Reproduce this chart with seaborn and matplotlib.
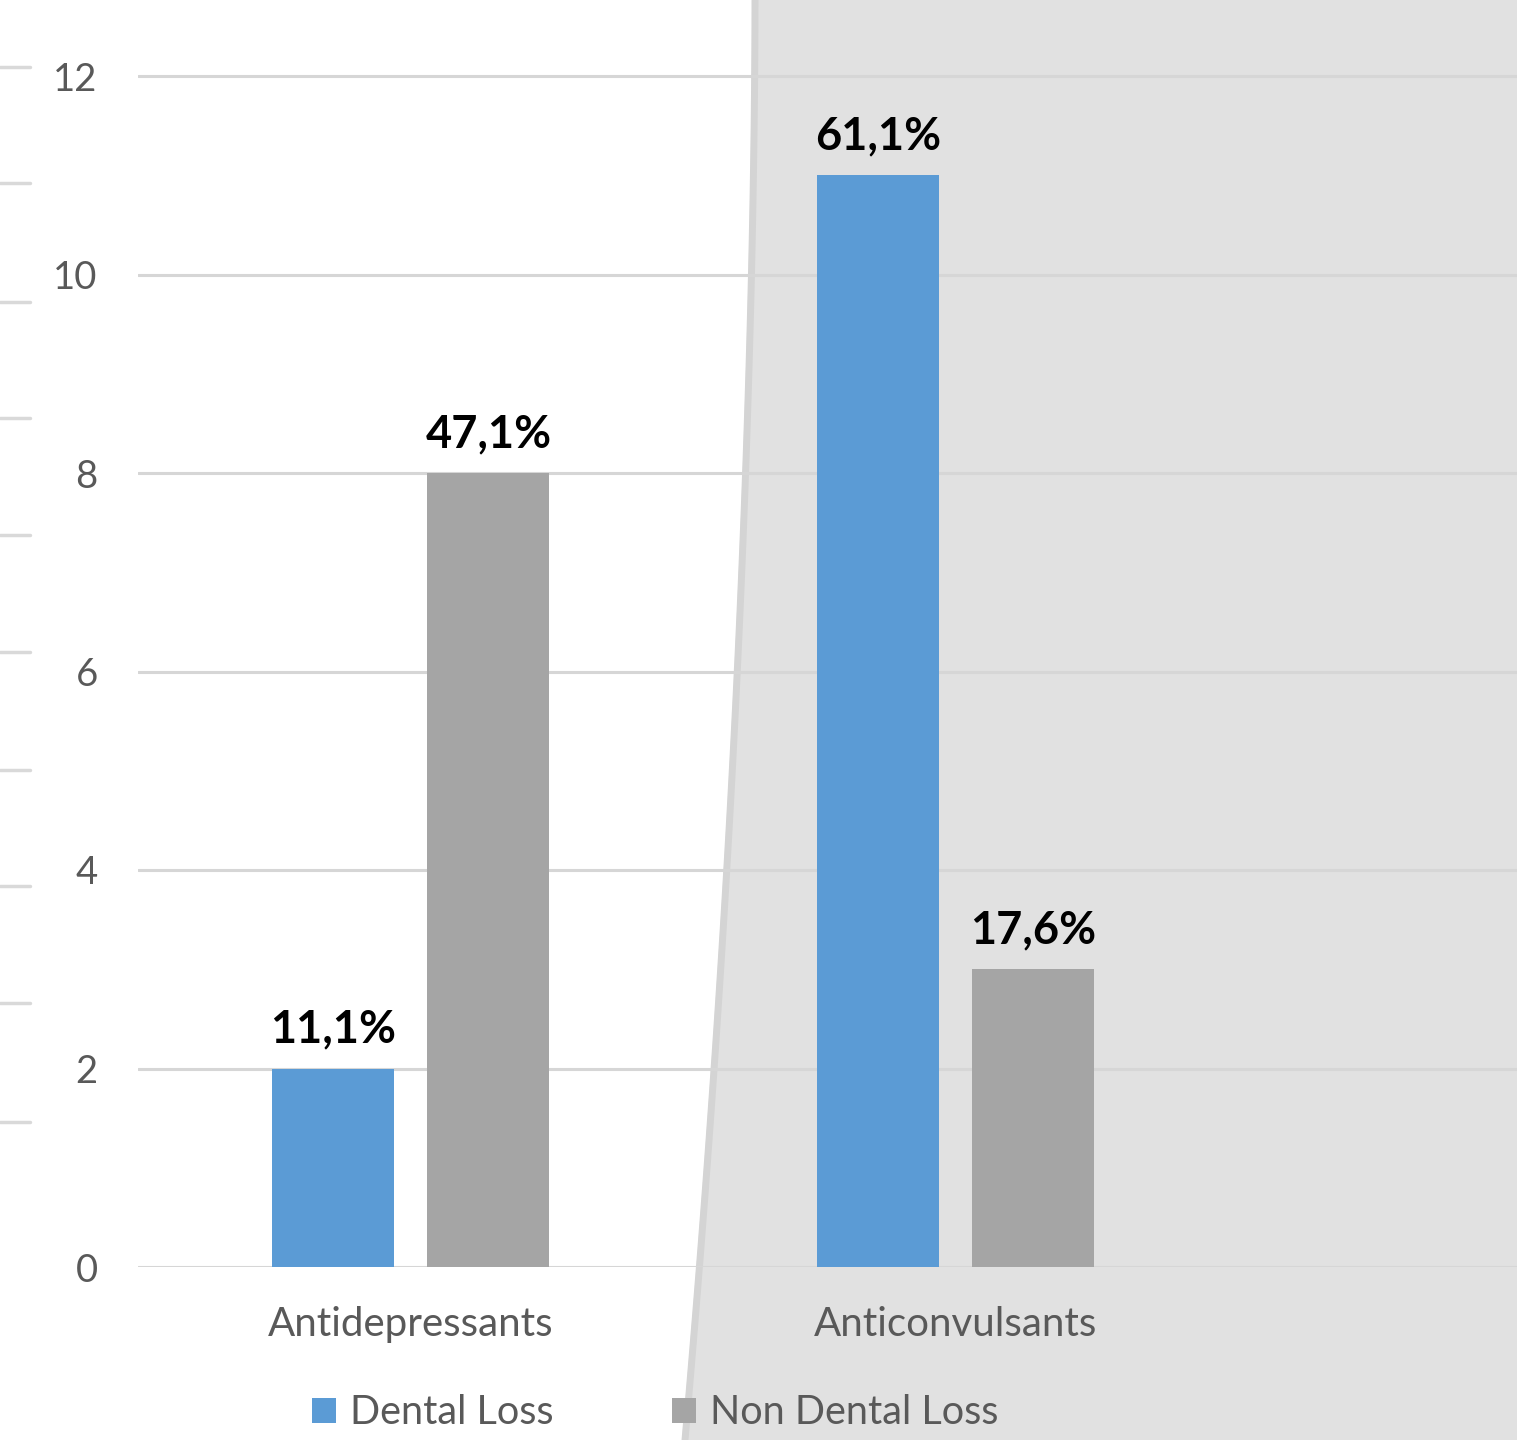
import matplotlib
matplotlib.use("Agg")
import matplotlib.pyplot as plt
import matplotlib.patches as mpatches
from matplotlib.lines import Line2D
import seaborn as sns
import pandas as pd
import numpy as np

categories = ["Antidepressants", "Anticonvulsants"]
series = ["Dental Loss", "Non Dental Loss"]
dental_loss = [2, 11]
non_dental_loss = [8, 3]
dental_labels = ["11,1%", "61,1%"]
non_dental_labels = ["47,1%", "17,6%"]
colors = ["#5b9bd5", "#a5a5a5"]
yticks = [0, 2, 4, 6, 8, 10, 12]

df = pd.DataFrame({
    "category": categories * 2,
    "series": [series[0]] * 2 + [series[1]] * 2,
    "value": dental_loss + non_dental_loss,
})

sns.set_theme(style="white")
plt.rcParams['font.family'] = ['Lato', 'DejaVu Sans']

W, H = 1517, 1440
fig = plt.figure(figsize=(W / 100, H / 100), dpi=100)
fig.patch.set_facecolor("white")

# background page curl (gray region on the right)
ypx = np.linspace(0, H, 60)
xpx = 752 - 70 * (ypx / H) ** 1.8
bx = xpx / W
by = 1 - ypx / H
poly = list(zip(bx, by)) + [(1, 0), (1, 1)]
fig.add_artist(mpatches.Polygon(poly, closed=True, transform=fig.transFigure,
                                facecolor="#e1e1e1", edgecolor="none", zorder=0))
fig.add_artist(Line2D(bx + 3 / W, by, transform=fig.transFigure,
                      color="#d4d4d4", lw=5, zorder=0.5))

# short ticks at left edge from underlying page
for ypix in [67, 183, 302, 418, 535, 652, 770, 886, 1003, 1122]:
    fig.add_artist(Line2D([0, 30 / W], [1 - ypix / H] * 2, transform=fig.transFigure,
                          color="#d9d9d9", lw=2.5, zorder=0.5))

ax = fig.add_axes([138 / W, 173 / H, 1 - 138 / W, 1 - 173 / H])
ax.set_zorder(2)
ax.patch.set_alpha(0)

sns.barplot(data=df, x="category", y="value", hue="series", palette=colors,
            saturation=1, width=0.571, gap=0.216, ax=ax, legend=False, zorder=3,
            linewidth=0, edgecolor="none")

ax.set_xlim(-0.5, 2.03)
ax.set_ylim(0, (1267 - 0) / ((1267 - 76) / 12))
ax.set_yticks(yticks)
ax.set_yticklabels([str(t) for t in yticks])
ax.yaxis.grid(True, color="#d6d6d6", lw=2.2, zorder=0)
ax.set_axisbelow(True)
for s in ax.spines.values():
    s.set_visible(False)
ax.tick_params(axis="y", length=0, pad=29, labelsize=27.5, labelcolor="#595959")
ax.tick_params(axis="x", length=0, pad=28, labelsize=29, labelcolor="#595959")
ax.set_xlabel("")
ax.set_ylabel("")

label_sets = [dental_labels, non_dental_labels]
for cont, labs in zip(ax.containers, label_sets):
    texts = ax.bar_label(cont, labels=labs, padding=13, fontsize=32.5, fontweight="bold", color="black")
    for t in texts:
        t.set_x(t.get_position()[0])

handles = [mpatches.Patch(facecolor=c, edgecolor="none", label=s) for c, s in zip(colors, series)]
leg = fig.legend(handles=handles, loc="center", bbox_to_anchor=(655 / W, 1 - 1413 / H), ncol=2,
                 frameon=False, fontsize=28.5, handlelength=0.6, handleheight=0.6,
                 handletextpad=0.35, columnspacing=3.0, labelcolor="#595959")
leg.set_zorder(5)

fig.savefig("out.png", dpi=100)
